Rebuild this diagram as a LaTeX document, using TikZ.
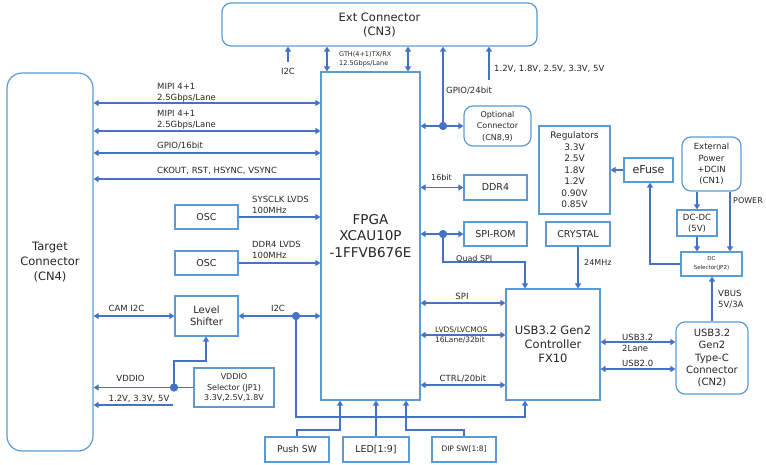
\documentclass[tikz,border=0pt]{standalone}
\usepackage{fontspec}
\setmainfont{DejaVu Sans}
\usetikzlibrary{arrows.meta,calc}
\definecolor{boxc}{HTML}{5B9BD5}
\definecolor{arrc}{HTML}{4472C4}
\definecolor{txtc}{HTML}{262626}
\tikzset{
 bx/.style={draw=boxc, line width=1.2pt, fill=white, text=txtc, align=center, inner sep=0pt},
 rbx/.style={bx, rounded corners=9pt},
 ar/.style={draw=arrc, line width=1.4pt, -{Triangle[length=5pt,width=6pt]}},
 dar/.style={draw=arrc, line width=1.4pt, {Triangle[length=5pt,width=6pt]}-{Triangle[length=5pt,width=6pt]}},
 dot/.style={circle, fill=arrc, inner sep=0pt, minimum size=8pt},
 lbl/.style={text=txtc, inner sep=0pt, font=\fontsize{8.5}{11}\selectfont, align=left},
 fs/.style={font=\fontsize{#1}{#1*1.25}\selectfont},
}
\begin{document}
\begin{tikzpicture}[x=1pt,y=-1pt]
\path[use as bounding box] (0,0) rectangle (766,464);

% ---- boxes
\node[rbx, minimum width=315pt, minimum height=43pt, font=\fontsize{11.5}{14}\selectfont] (ext) at (379.5,24.5) {Ext Connector\\(CN3)};
\node[bx, rounded corners=15pt, minimum width=86pt, minimum height=378pt, font=\fontsize{11.5}{15}\selectfont] (tgt) at (50,262) {Target\\Connector\\(CN4)};
\node[bx, minimum width=99pt, minimum height=328pt, font=\fontsize{13.5}{16.5}\selectfont] (fpga) at (370.5,236) {FPGA\\XCAU10P\\-1FFVB676E};
\node[rbx, minimum width=67pt, minimum height=40pt, font=\fontsize{8}{11.5}\selectfont] (opt) at (497.5,126) {Optional\\Connector\\(CN8,9)};
\node[bx, minimum width=63pt, minimum height=25pt, font=\fontsize{9.5}{11}\selectfont] (ddr) at (495.5,187.5) {DDR4};
\node[bx, minimum width=63pt, minimum height=24pt, font=\fontsize{9.5}{11}\selectfont] (spirom) at (495.5,234) {SPI-ROM};
\node[bx, minimum width=71pt, minimum height=88pt, font=\fontsize{9}{11.5}\selectfont] (reg) at (574.5,170) {Regulators\\3.3V\\2.5V\\1.8V\\1.2V\\0.90V\\0.85V};
\node[bx, minimum width=64pt, minimum height=24pt, font=\fontsize{9.5}{11}\selectfont] (crys) at (578,234) {CRYSTAL};
\node[bx, minimum width=49pt, minimum height=24pt, font=\fontsize{11}{13}\selectfont] (efuse) at (648.5,170) {eFuse};
\node[rbx, minimum width=59pt, minimum height=54pt, font=\fontsize{8.5}{11.3}\selectfont] (extpwr) at (711.5,164) {External\\Power\\+DCIN\\(CN1)};
\node[bx, minimum width=40pt, minimum height=26pt, font=\fontsize{8.5}{11}\selectfont] (dcdc) at (697,223) {DC-DC\\(5V)};
\node[bx, minimum width=61pt, minimum height=24pt, font=\fontsize{5.5}{9}\selectfont] (dcsel) at (711.5,264) {DC\\Selector(JP2)};
\node[rbx, minimum width=72pt, minimum height=72pt, font=\fontsize{10}{12.3}\selectfont] (typec) at (712,358) {USB3.2\\Gen2\\Type-C\\Connector\\(CN2)};
\node[bx, minimum width=94pt, minimum height=111pt, font=\fontsize{11.5}{14}\selectfont] (usb) at (553,344.5) {USB3.2 Gen2\\Controller\\FX10};
\node[bx, minimum width=63pt, minimum height=24pt, font=\fontsize{9.5}{11}\selectfont] (osc1) at (206.5,217) {OSC};
\node[bx, minimum width=63pt, minimum height=24pt, font=\fontsize{9.5}{11}\selectfont] (osc2) at (206.5,263) {OSC};
\node[bx, minimum width=63pt, minimum height=40pt, font=\fontsize{10}{12}\selectfont] (lvl) at (206.5,316) {Level\\Shifter};
\node[bx, minimum width=80pt, minimum height=39pt, font=\fontsize{8}{10.8}\selectfont] (vsel) at (234,387.5) {VDDIO\\Selector (JP1)\\3.3V,2.5V,1.8V};
\node[bx, minimum width=64pt, minimum height=25pt, font=\fontsize{9.2}{11}\selectfont] (push) at (297,449.5) {Push SW};
\node[bx, minimum width=66pt, minimum height=25pt, font=\fontsize{9.5}{11}\selectfont] (led) at (376,449.5) {LED[1:9]};
\node[bx, minimum width=64pt, minimum height=25pt, font=\fontsize{7.5}{11}\selectfont] (dip) at (464,449.5) {DIP SW[1:8]};

% ---- top connectors
\coordinate (i2ctop) at (288,62);
\draw[ar] (i2ctop) -- (ext.south -| i2ctop);
\node[lbl] (li2ctop) at (288,71) {I2C};
\draw[dar] (ext.south -| 327,0) -- (fpga.north -| 327,0);
\draw[dar] (ext.south -| 408,0) -- (fpga.north -| 408,0);
\node[lbl, anchor=west, font=\fontsize{6.5}{8.5}\selectfont] (lgth) at (339,59) {GTH(4+1)TX/RX\\12.5Gbps/Lane};
\node[dot] (dgp) at (443,126) {};
\draw[ar] (dgp.center) -- (ext.south -| dgp.center);
\draw[dar] (fpga.east |- opt.west) -- (opt.west);
\node[dot] at (dgp) {};
\node[lbl, anchor=west] (lgp24) at (446,91) {GPIO/24bit};
\coordinate (pw) at (489,80);
\draw[ar] (pw) -- (ext.south -| pw);
\node[lbl, anchor=west] (lpw) at (494,69) {1.2V, 1.8V, 2.5V, 3.3V, 5V};

% ---- right middle
\draw[dar] (fpga.east |- ddr.west) -- (ddr.west);
\node[lbl, anchor=west, font=\fontsize{8}{10}\selectfont] (l16) at (431,177.5) {16bit};
\node[dot] (dsp) at (443,234) {};
\draw[dar] (fpga.east |- spirom.west) -- (spirom.west);
\draw[ar] (dsp.center) -- (443,262) -- (525,262) -- (usb.north -| 525,0);
\node[dot] at (dsp) {};
\node[lbl, anchor=base west, font=\fontsize{8}{10}\selectfont] (lqspi) at (456,261.5) {Quad SPI};
\draw[ar] (crys.south) -- (usb.north -| crys.south);
\node[lbl, anchor=west, font=\fontsize{8}{10}\selectfont] (l24) at (584,263) {24MHz};
\draw[ar] (efuse.west) -- (reg.east |- efuse.west);
\draw[ar] (extpwr.south -| dcdc.north) -- (dcdc.north);
\draw[ar] (dcdc.south) -- (dcsel.north -| dcdc.south);
\draw[ar] (extpwr.south -| 730,0) -- (dcsel.north -| 730,0);
\node[lbl, anchor=west, font=\fontsize{8}{10}\selectfont] (lpower) at (733,201) {POWER};
\draw[ar] (dcsel.west) -| (efuse.south -| 650,0);
\draw[ar] (typec.north) -- (dcsel.south -| typec.north);
\node[lbl, anchor=west] (lvbus) at (718,299.5) {VBUS\\5V/3A};
\draw[dar] (usb.east |- 0,342) -- (typec.west |- 0,342);
\draw[dar] (usb.east |- 0,369) -- (typec.west |- 0,369);
\node[lbl, anchor=west] (lusb32) at (622,342.5) {USB3.2\\2Lane};
\node[lbl, anchor=west] (lusb20) at (622,363.5) {USB2.0};

% ---- FPGA to USB
\draw[dar] (fpga.east |- 0,303) -- (usb.west |- 0,303);
\node[lbl] (lspi) at (462,296) {SPI};
\draw[dar] (fpga.east |- 0,335) -- (usb.west |- 0,335);
\node[lbl, anchor=west, font=\fontsize{7.5}{10}\selectfont] (llvds) at (435,335.5) {LVDS/LVCMOS\\16Lane/32bit};
\draw[dar] (fpga.east |- 0,385) -- (usb.west |- 0,385);
\node[lbl] (lctrl) at (463,379) {CTRL/20bit};

% ---- left side
\draw[dar] (tgt.east |- 0,103) -- (fpga.west |- 0,103);
\node[lbl, anchor=west] (lmipi1) at (157,92.5) {MIPI 4+1\\2.5Gbps/Lane};
\draw[dar] (tgt.east |- 0,131) -- (fpga.west |- 0,131);
\node[lbl, anchor=west] (lmipi2) at (157,120) {MIPI 4+1\\2.5Gbps/Lane};
\draw[dar] (tgt.east |- 0,153) -- (fpga.west |- 0,153);
\node[lbl, anchor=west] (lgp16) at (157,146) {GPIO/16bit};
\draw[ar] (fpga.west |- 0,179) -- (tgt.east |- 0,179);
\node[lbl, anchor=west] (lck) at (157,171) {CKOUT, RST, HSYNC, VSYNC};
\draw[ar] (osc1.east) -- (fpga.west |- osc1.east);
\node[lbl, anchor=west] (lsys) at (252,204.5) {SYSCLK LVDS\\100MHz};
\draw[ar] (osc2.east) -- (fpga.west |- osc2.east);
\node[lbl, anchor=west] (lddrclk) at (252,249.5) {DDR4 LVDS\\100MHz};
\draw[dar] (tgt.east |- lvl.west) -- (lvl.west);
\node[lbl] (lcam) at (126.5,308) {CAM I2C};
\draw[dar] (lvl.east) -- (fpga.west |- lvl.east);
\node[lbl] (li2cm) at (278,308) {I2C};
\node[dot] (di2c) at (296,316) {};
\draw[ar] (di2c.center) -- (296,417) -- (525,417) -- (usb.south -| 525,0);
\node[dot] at (di2c) {};
\draw[ar] (vsel.west) -- (tgt.east |- vsel.west);
\node[dot] (dvd) at (174,387.5) {};
\draw[ar] (dvd.center) -- (174,361) -- (206,361) -- (lvl.south -| 206,0);
\node[dot] at (dvd) {};
\node[lbl] (lvddio) at (130.5,378.5) {VDDIO};
\coordinate (v12) at (173,405);
\draw[ar] (v12) -- (tgt.east |- v12);
\node[lbl] (lv12) at (139,398.5) {1.2V, 3.3V, 5V};

% ---- bottom
\draw[ar] (push.north) -- (297,430) -- (340,430) -- (fpga.south -| 340,0);
\draw[ar] (led.north) -- (fpga.south -| led.north);
\draw[ar] (dip.north) -- (464,430) -- (406,430) -- (fpga.south -| 406,0);
\end{tikzpicture}
\end{document}
